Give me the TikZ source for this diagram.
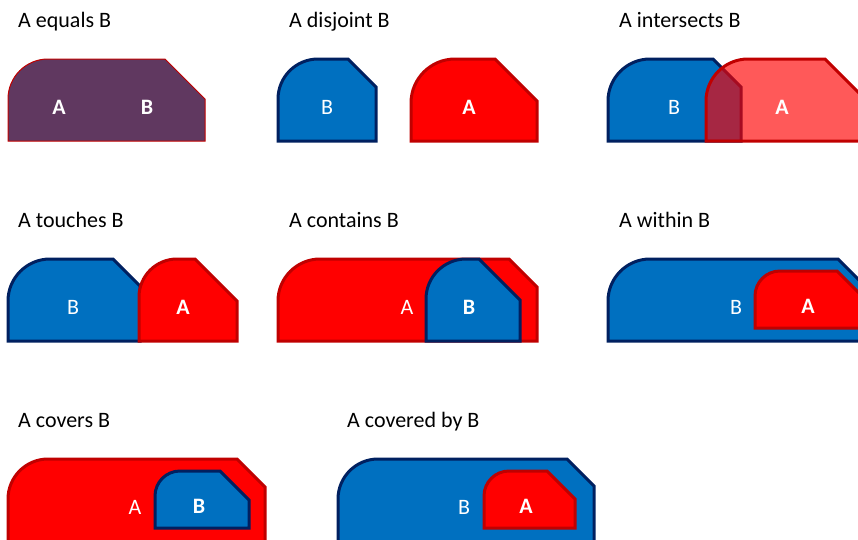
\documentclass[tikz,border=0pt]{standalone}
\usepackage{fontspec}
\setmainfont{Carlito}
\definecolor{bfill}{HTML}{0070C0}
\definecolor{bline}{HTML}{002060}
\definecolor{rfill}{HTML}{FF0000}
\definecolor{rline}{HTML}{C00000}
\definecolor{pfill}{RGB}{96,56,96}
\newcommand{\snipshape}[7]{%
  \path[#1] (#2,#5) -- (#2,{#3+#6}) arc[start angle=180,end angle=270,radius=#6]
    -- ({#4-#7},#3) -- (#4,{#3+#7}) -- (#4,#5) -- cycle;}
\tikzset{
  bshape/.style={fill=bfill, draw=bline, line width=3pt, line join=miter},
  rshape/.style={fill=rfill, draw=rline, line width=3pt, line join=miter},
  ttl/.style={anchor=base west, inner sep=0pt, font=\fontsize{22}{26}\selectfont, text=black},
  lbl/.style={inner sep=0pt, font=\fontsize{22}{26}\selectfont, text=white},
  lblb/.style={lbl, font=\fontsize{22}{26}\selectfont\bfseries},
}
\begin{document}
\begin{tikzpicture}[x=1pt, y=-1pt]
\useasboundingbox (0,0) rectangle (858,539);
\clip (0,0) rectangle (858,539);
% titles
\node[ttl] (t1) at (18,27) {A equals B};
\node[ttl] (t2) at (289,27) {A disjoint B};
\node[ttl] (t3) at (619,27) {A intersects B};
\node[ttl] (t4) at (18,227) {A touches B};
\node[ttl] (t5) at (289,227) {A contains B};
\node[ttl] (t6) at (619,227) {A within B};
\node[ttl] (t7) at (18,427) {A covers B};
\node[ttl] (t8) at (347,427) {A covered by B};
% 1 equals
\snipshape{fill=pfill, draw=rline, line width=1pt}{8}{59}{205}{141}{40}{40}
\node[lblb] (l1a) at (59,107) {A};
\node[lblb] (l1b) at (147,107) {B};
% 2 disjoint
\snipshape{bshape}{278}{59}{376}{141}{40}{28}
\snipshape{rshape}{411}{59}{537}{141}{44}{42}
\node[lbl] (l2b) at (327,107) {B};
\node[lblb] (l2a) at (469,107) {A};
% 3 intersects
\snipshape{bshape}{608}{59}{741}{141}{42}{28}
\snipshape{rshape, fill opacity=0.65}{706}{59}{866}{141}{42}{41}
\node[lbl] (l3b) at (674,107) {B};
\node[lblb] (l3a) at (782,107) {A};
% 4 touches
\snipshape{bshape}{8}{259}{140}{341}{42}{27}
\snipshape{rshape}{139}{259}{237}{341}{38}{42}
\node[lbl] (l4b) at (73,307) {B};
\node[lblb] (l4a) at (183,307) {A};
% 5 contains
\snipshape{rshape}{278}{259}{537}{341}{42}{28}
\snipshape{bshape}{426}{259}{520}{341}{40}{41}
\node[lbl] (l5a) at (407,307) {A};
\node[lblb] (l5b) at (469,307) {B};
% 6 within
\snipshape{bshape}{608}{259}{866}{341}{42}{28}
\snipshape{rshape}{755}{271}{866}{328}{25}{29}
\node[lbl] (l6b) at (736,307) {B};
\node[lblb] (l6a) at (808,306) {A};
% 7 covers
\snipshape{rshape}{8}{459}{265}{570}{40}{28}
\snipshape{bshape}{155}{471}{249}{528}{25}{29}
\node[lbl] (l7a) at (135,507) {A};
\node[lblb] (l7b) at (199,506) {B};
% 8 covered by
\snipshape{bshape}{338}{459}{594}{570}{40}{27}
\snipshape{rshape}{484}{471}{575}{528}{25}{28}
\node[lbl] (l8b) at (464,507) {B};
\node[lblb] (l8a) at (526,506) {A};
\end{tikzpicture}
\end{document}
